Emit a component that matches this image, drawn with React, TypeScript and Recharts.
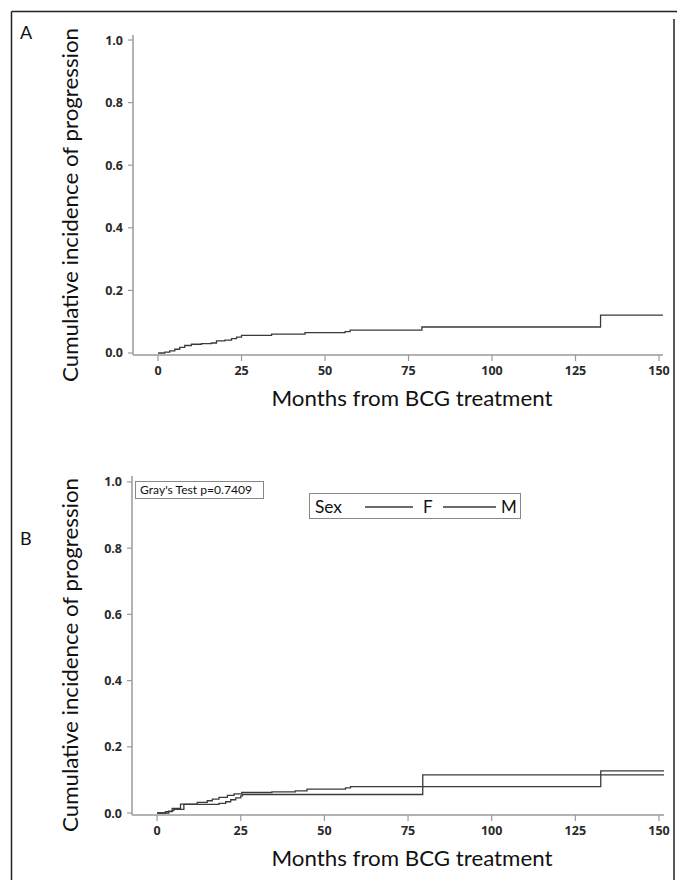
import React from 'react';
import { LineChart, Line, XAxis, YAxis } from 'recharts';

// ---- tick labels ----
const monthTicks = [0, 25, 50, 75, 100, 125, 150];
const incidenceTicks = [0, 0.2, 0.4, 0.6, 0.8, 1.0];

// ---- panel A: overall cumulative incidence ----
const overallMonths = [0, 2, 3.5, 5, 6.5, 8, 10, 13, 16, 17.5, 20, 22, 23.5, 25, 34, 44, 56, 57.5, 79, 132.5, 151.2];
const overallIncidence = [0, 0.003, 0.007, 0.012, 0.018, 0.024, 0.028, 0.030, 0.032, 0.039, 0.041, 0.046, 0.051, 0.056, 0.060, 0.065, 0.068, 0.073, 0.083, 0.121, 0.121];

// ---- panel B: by sex ----
const femaleMonths = [0, 3.5, 4.5, 7, 12, 15, 16.5, 18.5, 21, 23, 25.3, 34.3, 41.3, 44.8, 56.3, 57.8, 132.6, 151.5];
const femaleIncidence = [0, 0.006, 0.014, 0.027, 0.032, 0.037, 0.042, 0.047, 0.053, 0.058, 0.062, 0.064, 0.067, 0.072, 0.076, 0.080, 0.127, 0.127];
const maleMonths = [0, 2.5, 4.5, 5, 8, 18.5, 20.5, 22, 23.5, 25, 25.5, 79.4, 151.5];
const maleIncidence = [0, 0.004, 0.007, 0.011, 0.026, 0.029, 0.034, 0.040, 0.046, 0.052, 0.056, 0.115, 0.115];

const legendLabels = ['F', 'M'];
const grayTestText = "Gray's Test p=0.7409";
const yTitle = 'Cumulative incidence of progression';
const xTitle = 'Months from BCG treatment';

const toRows = (xs: number[], ys: number[]) => xs.map((m, i) => ({ month: m, value: ys[i] }));
const overallData = toRows(overallMonths, overallIncidence);
const femaleData = toRows(femaleMonths, femaleIncidence);
const maleData = toRows(maleMonths, maleIncidence);

const AXIS = '#9a9a9a';
const CURVE = '#3a3a3a';
const TICK_FONT = 'Open Sans, sans-serif';

function XTick(props: any) {
  const { x, y, payload } = props;
  return (
    <text x={x} y={y + 14} textAnchor="middle" fontSize={12.5} fontWeight={700} fill="#2a2a2a" fontFamily={TICK_FONT}>
      {payload.value}
    </text>
  );
}

function YTick(props: any) {
  const { x, y, payload } = props;
  return (
    <text x={x - 5} y={y + 4.5} textAnchor="end" fontSize={12.5} fontWeight={700} fill="#2a2a2a" fontFamily={TICK_FONT}>
      {Number(payload.value).toFixed(1)}
    </text>
  );
}

type PanelProps = {
  top: number;
  plotTop: number;
  plotBottom: number;
  plotLeft: number;
  plotRight: number;
  xDomain: [number, number];
  yDomain: [number, number];
  series: { name: string; data: { month: number; value: number }[] }[];
};

const W = 677;
const H = 440;

function Panel({ top, plotTop, plotBottom, plotLeft, plotRight, xDomain, yDomain, series }: PanelProps) {
  const yAxisW = 60;
  const xAxisH = 30;
  return (
    <div style={{ position: 'absolute', left: 0, top, width: W, height: H }}>
      <LineChart
        width={W}
        height={H}
        margin={{ top: plotTop, right: W - plotRight, left: plotLeft - yAxisW, bottom: H - plotBottom - xAxisH }}
      >
        <XAxis
          dataKey="month"
          type="number"
          domain={xDomain}
          ticks={monthTicks}
          allowDataOverflow
          height={xAxisH}
          tickSize={6}
          tickMargin={0}
          axisLine={{ stroke: AXIS, strokeWidth: 1.5 }}
          tickLine={{ stroke: AXIS, strokeWidth: 1.2 }}
          tick={<XTick />}
        />
        <YAxis
          type="number"
          domain={yDomain}
          ticks={incidenceTicks}
          allowDataOverflow
          width={yAxisW}
          tickSize={5}
          tickMargin={0}
          axisLine={{ stroke: AXIS, strokeWidth: 1.5 }}
          tickLine={{ stroke: AXIS, strokeWidth: 1.2 }}
          tick={<YTick />}
        />
        <XAxis xAxisId="frameTop" orientation="top" type="number" domain={xDomain} height={0} tick={false} tickLine={false} axisLine={{ stroke: AXIS, strokeWidth: 1.5 }} />
        <YAxis yAxisId="frameRight" orientation="right" type="number" domain={yDomain} width={0} tick={false} tickLine={false} axisLine={{ stroke: AXIS, strokeWidth: 1.5 }} />
        {series.map((s) => (
          <Line
            key={s.name}
            name={s.name}
            data={s.data}
            dataKey="value"
            type="stepAfter"
            stroke={CURVE}
            strokeWidth={1.3}
            dot={false}
            activeDot={false}
            isAnimationActive={false}
          />
        ))}
      </LineChart>
    </div>
  );
}

const titleFont = { fontFamily: 'Lato, Open Sans, sans-serif', fill: '#111' };

export default function App() {
  return (
    <div style={{ position: 'absolute', left: 0, top: 0, width: W, height: 880, background: '#fff', overflow: 'hidden' }}>
      <Panel
        top={0}
        plotTop={35}
        plotBottom={355}
        plotLeft={133}
        plotRight={663}
        xDomain={[-7.5, 151.2]}
        yDomain={[-0.0064, 1.016]}
        series={[{ name: 'All', data: overallData }]}
      />
      <Panel
        top={440}
        plotTop={36}
        plotBottom={375}
        plotLeft={132}
        plotRight={664}
        xDomain={[-7.5, 151.5]}
        yDomain={[-0.006, 1.018]}
        series={[
          { name: legendLabels[0], data: femaleData },
          { name: legendLabels[1], data: maleData },
        ]}
      />
      <svg width={W} height={880} style={{ position: 'absolute', left: 0, top: 0, pointerEvents: 'none' }}>
        {/* outer frame */}
        <line x1={11.5} y1={11.5} x2={677} y2={11.5} stroke="#222" strokeWidth={1.5} />
        <line x1={11.5} y1={11.5} x2={11.5} y2={880} stroke="#222" strokeWidth={1.5} />
        <line x1={674} y1={19} x2={674} y2={880} stroke="#222" strokeWidth={1.5} />

        {/* panel letters */}
        <text x={20} y={39} fontSize={18} {...titleFont}>A</text>
        <text x={20} y={545} fontSize={18} {...titleFont}>B</text>

        {/* axis titles panel A */}
        <text x={412} y={406} fontSize={22} textAnchor="middle" textLength={281} lengthAdjust="spacingAndGlyphs" {...titleFont}>{xTitle}</text>
        <text x={78} y={205} fontSize={22} textAnchor="middle" textLength={354} lengthAdjust="spacingAndGlyphs" transform="rotate(-90 78 205)" {...titleFont}>{yTitle}</text>

        {/* axis titles panel B */}
        <text x={412} y={866} fontSize={22} textAnchor="middle" textLength={281} lengthAdjust="spacingAndGlyphs" {...titleFont}>{xTitle}</text>
        <text x={78} y={655} fontSize={22} textAnchor="middle" textLength={354} lengthAdjust="spacingAndGlyphs" transform="rotate(-90 78 655)" {...titleFont}>{yTitle}</text>

        {/* Gray's test box */}
        <rect x={135.5} y={481.5} width={128} height={17} fill="#fff" stroke="#888" strokeWidth={1} />
        <text x={140} y={494} fontSize={12} textLength={112} lengthAdjust="spacingAndGlyphs" {...titleFont}>{grayTestText}</text>

        {/* legend */}
        <rect x={309.5} y={493.5} width={211} height={25} fill="#fff" stroke="#888" strokeWidth={1} />
        <text x={315} y={513} fontSize={17} textLength={27} lengthAdjust="spacingAndGlyphs" {...titleFont}>Sex</text>
        <line x1={365} y1={507} x2={413} y2={507} stroke={CURVE} strokeWidth={1.3} />
        <text x={423} y={513} fontSize={17} {...titleFont}>{legendLabels[0]}</text>
        <line x1={443} y1={507} x2={496} y2={507} stroke={CURVE} strokeWidth={1.3} />
        <text x={501} y={513} fontSize={17} {...titleFont}>{legendLabels[1]}</text>
      </svg>
    </div>
  );
}
